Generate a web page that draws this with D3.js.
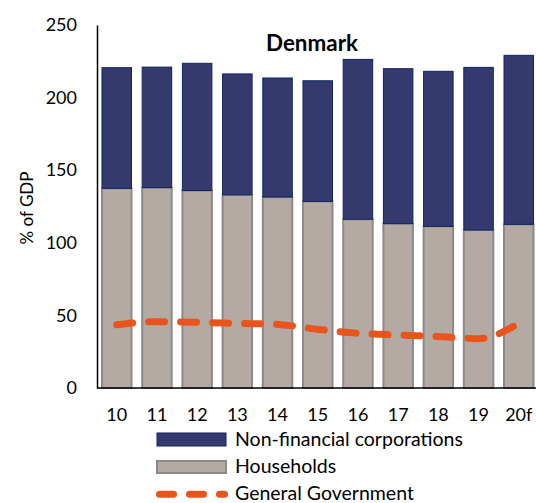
<!DOCTYPE html>
<html>
<head>
<meta charset="utf-8">
<script src="https://cdn.jsdelivr.net/npm/d3@7"></script>
<style>
  body { margin: 0; background: #fff; }
  svg { font-family: Lato, "Open Sans", sans-serif; }
</style>
</head>
<body>
<div id="chart"></div>
<script>
// chart data
const years = ["10", "11", "12", "13", "14", "15", "16", "17", "18", "19", "20f"];
const households = [137.5, 138, 136, 133, 131.5, 128.5, 116.2, 113.2, 111.3, 108.8, 112.7];
const corporations = [83.1, 83, 87.6, 83.3, 82, 83.1, 110.1, 106.7, 106.8, 112, 116.4];
const government = [43.5, 45.7, 45.3, 44.5, 43.8, 40.4, 37.7, 36.5, 35.4, 34, 44.5];
const yTicks = [0, 50, 100, 150, 200, 250];

const FRAME_WIDTH = 536;
const FRAME_HEIGHT = 503;
const MARGINS = {left: 97, right: -2.5, top: 25, bottom: 115};

const NAVY = "#343a6e";
const BEIGE = "#b5aaa3";
const ORANGE = "#e9531c";

const svg = d3.select("#chart")
  .append("svg")
    .attr("width", FRAME_WIDTH)
    .attr("height", FRAME_HEIGHT);

// scale a text's font size so it spans the wanted width
function fitText(sel, size, target) {
  sel.attr("font-size", size);
  const w = sel.node().getComputedTextLength();
  const s = size * target / w;
  sel.attr("font-size", s);
  return s;
}

const x = d3.scaleBand()
  .domain(years)
  .range([MARGINS.left, FRAME_WIDTH - MARGINS.right])
  .paddingInner(0.266)
  .paddingOuter(0.124);

const y = d3.scaleLinear()
  .domain([0, 250])
  .range([FRAME_HEIGHT - MARGINS.bottom, MARGINS.top]);

// households (bottom of stack)
svg.selectAll(".hh")
  .data(years)
  .enter().append("rect")
    .attr("class", "hh")
    .attr("x", d => x(d))
    .attr("width", x.bandwidth())
    .attr("y", (d, i) => y(households[i]))
    .attr("height", (d, i) => y(0) - y(households[i]))
    .attr("fill", BEIGE)
    .attr("stroke", "#8a8a8a")
    .attr("stroke-width", 2);

// corporations on top
svg.selectAll(".nfc")
  .data(years)
  .enter().append("rect")
    .attr("class", "nfc")
    .attr("x", d => x(d))
    .attr("width", x.bandwidth())
    .attr("y", (d, i) => y(households[i] + corporations[i]))
    .attr("height", (d, i) => y(households[i]) - y(households[i] + corporations[i]))
    .attr("fill", NAVY)
    .attr("stroke", "#0e2463")
    .attr("stroke-width", 1);

// general government dashed line
const line = d3.line()
  .x((d, i) => x(years[i]) + x.bandwidth() / 2)
  .y(d => y(d))
  .curve(d3.curveMonotoneX);

svg.append("path")
  .datum(government)
  .attr("d", line)
  .attr("fill", "none")
  .attr("stroke", ORANGE)
  .attr("stroke-width", 7)
  .attr("stroke-linecap", "round")
  .attr("stroke-dasharray", "16,16");

// axes
const yAxis = svg.append("g")
  .attr("transform", "translate(" + MARGINS.left + ",0)")
  .call(d3.axisLeft(y).tickValues(yTicks).tickSize(0).tickPadding(20));
yAxis.select(".domain").attr("stroke", "#000").attr("stroke-width", 1.5);
yAxis.selectAll("text").attr("font-size", 18).attr("fill", "#000").attr("font-family", "Lato");

const xAxis = svg.append("g")
  .attr("transform", "translate(0," + y(0) + ")")
  .call(d3.axisBottom(x).tickSize(0).tickPadding(20));
xAxis.select(".domain").attr("stroke", "#000").attr("stroke-width", 1.5)
  .attr("d", "M" + MARGINS.left + ",0H" + (FRAME_WIDTH - MARGINS.right));
xAxis.selectAll("text").attr("font-size", 18).attr("fill", "#000").attr("font-family", "Lato");

// y label
svg.append("text")
  .attr("transform", "translate(33,208) rotate(-90)")
  .attr("text-anchor", "middle")
  .attr("font-size", 17)
  .text("% of GDP");

// title
const title = svg.append("text")
  .attr("x", 312)
  .attr("y", 51)
  .attr("text-anchor", "middle")
  .attr("font-weight", "bold")
  .text("Denmark");
fitText(title, 19, 92);

// legend
const legend = svg.append("g");
legend.append("rect").attr("x", 157).attr("y", 433).attr("width", 69).attr("height", 13)
  .attr("fill", NAVY).attr("stroke", "#0e2463");
const l1 = legend.append("text").attr("x", 235).attr("y", 446).text("Non-financial corporations");
const legendSize = fitText(l1, 17, 228);
legend.append("rect").attr("x", 157).attr("y", 461).attr("width", 69).attr("height", 12)
  .attr("fill", BEIGE).attr("stroke", "#8a8a8a").attr("stroke-width", 2);
legend.append("text").attr("x", 235).attr("y", 473).attr("font-size", legendSize).text("Households");
legend.append("line").attr("x1", 159.5).attr("x2", 224.5).attr("y1", 494.3).attr("y2", 494.3)
  .attr("stroke", ORANGE).attr("stroke-width", 7).attr("stroke-linecap", "round")
  .attr("stroke-dasharray", "14,16");
legend.append("text").attr("x", 235).attr("y", 500).attr("font-size", legendSize).text("General Government");
</script>
</body>
</html>
